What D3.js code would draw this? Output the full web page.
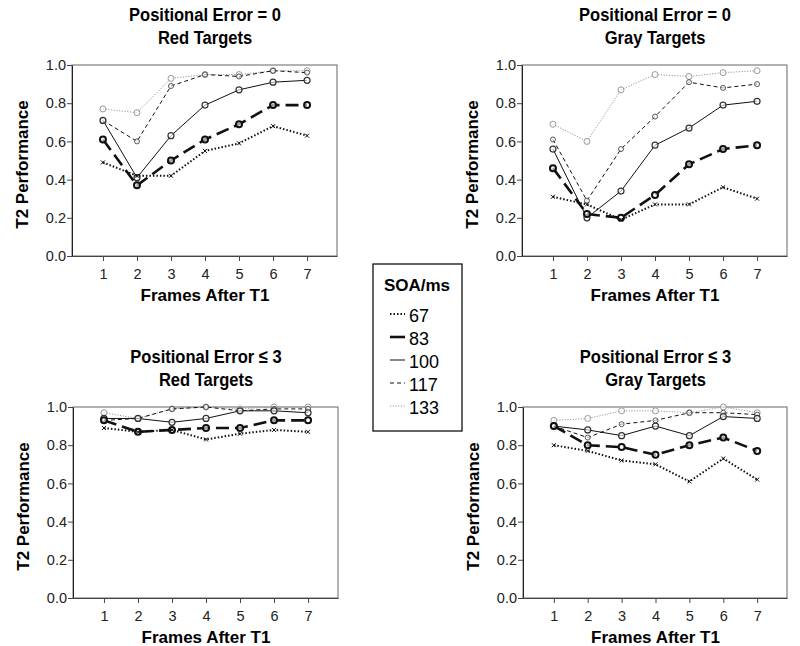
<!DOCTYPE html>
<html>
<head>
<meta charset="utf-8">
<script src="https://cdn.jsdelivr.net/npm/d3@7"></script>
<style>
  body { margin: 0; background: #fff; }
  svg { display: block; font-family: "Liberation Sans", Arial, sans-serif; }
  .title { font-weight: bold; font-size: 19px; }
  .lab { font-weight: bold; font-size: 17px; }
  .tick text { font-size: 14.5px; fill: #222; }
</style>
</head>
<body>
<div id="root"></div>
<script>
const frames = [1, 2, 3, 4, 5, 6, 7];
const soaLevels = ["67", "83", "100", "117", "133"];

// Positional Error = 0, Red Targets
const pe0Red = {
  "67":  [0.49, 0.42, 0.42, 0.55, 0.59, 0.68, 0.63],
  "83":  [0.61, 0.37, 0.50, 0.61, 0.69, 0.79, 0.79],
  "100": [0.71, 0.41, 0.63, 0.79, 0.87, 0.91, 0.92],
  "117": [0.71, 0.60, 0.89, 0.95, 0.94, 0.97, 0.96],
  "133": [0.77, 0.75, 0.93, 0.95, 0.95, 0.97, 0.97]
};
// Positional Error = 0, Gray Targets
const pe0Gray = {
  "67":  [0.31, 0.27, 0.19, 0.27, 0.27, 0.36, 0.30],
  "83":  [0.46, 0.22, 0.20, 0.32, 0.48, 0.56, 0.58],
  "100": [0.56, 0.20, 0.34, 0.58, 0.67, 0.79, 0.81],
  "117": [0.61, 0.29, 0.56, 0.73, 0.91, 0.88, 0.90],
  "133": [0.69, 0.60, 0.87, 0.95, 0.94, 0.96, 0.97]
};
// Positional Error <= 3, Red Targets
const pe3Red = {
  "67":  [0.89, 0.87, 0.88, 0.83, 0.86, 0.88, 0.87],
  "83":  [0.93, 0.87, 0.88, 0.89, 0.89, 0.93, 0.93],
  "100": [0.94, 0.94, 0.92, 0.94, 0.98, 0.98, 0.97],
  "117": [0.93, 0.94, 0.99, 1.00, 0.98, 0.99, 0.99],
  "133": [0.97, 0.94, 0.99, 1.00, 0.99, 1.00, 1.00]
};
// Positional Error <= 3, Gray Targets
const pe3Gray = {
  "67":  [0.80, 0.77, 0.72, 0.70, 0.61, 0.73, 0.62],
  "83":  [0.90, 0.80, 0.79, 0.75, 0.80, 0.84, 0.77],
  "100": [0.90, 0.88, 0.85, 0.90, 0.85, 0.95, 0.94],
  "117": [0.90, 0.84, 0.91, 0.93, 0.97, 0.97, 0.96],
  "133": [0.93, 0.94, 0.98, 0.98, 0.97, 1.00, 0.97]
};
const yTicks = [0, 0.2, 0.4, 0.6, 0.8, 1.0];

const styles = {
  "67":  { stroke: "#111", width: 2, dash: "1.5,2", marker: "x", mcol: "#111" },
  "83":  { stroke: "#111", width: 2.6, dash: "13,6", marker: "o", mcol: "#111", mw: 2 },
  "100": { stroke: "#111", width: 1, dash: null, marker: "o", mcol: "#333", mw: 1.2 },
  "117": { stroke: "#111", width: 1, dash: "4,3", marker: "o", mcol: "#444", mw: 0.9, r: 2.5 },
  "133": { stroke: "#999", width: 1, dash: "1.2,1.5", marker: "o", mcol: "#999", mw: 1 }
};

const panels = [
  { data: pe0Red,  t1: "Positional Error = 0", t2: "Red Targets",  x0: 72,  x1: 337, y0: 65,  y1: 256 },
  { data: pe0Gray, t1: "Positional Error = 0", t2: "Gray Targets", x0: 522, x1: 787, y0: 65,  y1: 256 },
  { data: pe3Red,  t1: "Positional Error \u2264 3", t2: "Red Targets",  x0: 73,  x1: 338, y0: 407, y1: 598 },
  { data: pe3Gray, t1: "Positional Error \u2264 3", t2: "Gray Targets", x0: 523, x1: 787, y0: 407, y1: 598 }
];

const svg = d3.select("#root").append("svg").attr("width", 800).attr("height", 646);

panels.forEach(p => {
  const x = d3.scaleLinear().domain([0.09, 7.88]).range([p.x0, p.x1]);
  const y = d3.scaleLinear().domain([0, 1]).range([p.y1, p.y0]);
  const g = svg.append("g");

  // frame
  g.append("rect").attr("x", p.x0).attr("y", p.y0)
    .attr("width", p.x1 - p.x0).attr("height", p.y1 - p.y0)
    .attr("fill", "none").attr("stroke", "#666").attr("stroke-width", 1);

  const xa = g.append("g").attr("transform", `translate(0,${p.y1})`)
    .call(d3.axisBottom(x).tickValues(frames).tickFormat(d3.format("d")).tickSize(5).tickSizeOuter(0));
  xa.selectAll(".tick text").attr("dy", "1.05em");
  xa.select(".domain").attr("stroke", "#444");
  xa.selectAll(".tick line").attr("stroke", "#444");

  const ya = g.append("g").attr("transform", `translate(${p.x0},0)`)
    .call(d3.axisLeft(y).tickValues(yTicks).tickFormat(d3.format(".1f")).tickSize(5).tickSizeOuter(0));
  ya.selectAll(".tick text").attr("x", -6);
  ya.select(".domain").attr("stroke", "#222");
  ya.selectAll(".tick line").attr("stroke", "#444");

  // titles (condensed bold)
  const cx = (x(1) + x(7)) / 2;
  g.append("text").attr("class", "title")
    .attr("transform", `translate(${cx},${p.y0 - 44}) scale(0.87,1)`)
    .attr("text-anchor", "middle").text(p.t1);
  g.append("text").attr("class", "title")
    .attr("transform", `translate(${cx},${p.y0 - 21}) scale(0.87,1)`)
    .attr("text-anchor", "middle").text(p.t2);

  // axis labels
  g.append("text").attr("class", "lab").attr("x", cx).attr("y", p.y1 + 45)
    .attr("text-anchor", "middle").text("Frames After T1");
  g.append("text").attr("class", "lab")
    .attr("transform", `translate(${p.x0 - 44},${(p.y0 + p.y1) / 2 + 4}) rotate(-90)`)
    .attr("text-anchor", "middle").text("T2 Performance");

  const line = d3.line().x((d, i) => x(frames[i])).y(d => y(d));

  soaLevels.slice().reverse().forEach(k => {
    const s = styles[k];
    const vals = p.data[k];
    g.append("path").datum(vals)
      .attr("fill", "none").attr("stroke", s.stroke).attr("stroke-width", s.width)
      .attr("stroke-dasharray", s.dash).attr("d", line);
    if (s.marker === "o") {
      g.selectAll(null).data(vals).enter().append("circle")
        .attr("cx", (d, i) => x(frames[i])).attr("cy", d => y(d))
        .attr("r", s.r || 3).attr("fill", "#fff").attr("fill-opacity", 0.6)
        .attr("stroke", s.mcol).attr("stroke-width", s.mw);
    } else {
      g.selectAll(null).data(vals).enter().append("path")
        .attr("transform", (d, i) => `translate(${x(frames[i])},${y(d)})`)
        .attr("d", "M-2,-2L2,2M-2,2L2,-2")
        .attr("stroke", s.mcol).attr("stroke-width", 1);
    }
  });
});

// legend
const lg = svg.append("g");
lg.append("rect").attr("x", 373).attr("y", 264).attr("width", 89).attr("height", 167)
  .attr("fill", "#fff").attr("stroke", "#111").attr("stroke-width", 1.3);
lg.append("text").attr("x", 417).attr("y", 291).attr("text-anchor", "middle")
  .attr("font-weight", "bold").attr("font-size", "17px").text("SOA/ms");
const legendY = d3.scalePoint().domain(soaLevels).range([316, 408]);
soaLevels.forEach(k => {
  const s = styles[k];
  const yy = legendY(k);
  lg.append("line").attr("x1", 390).attr("x2", 405).attr("y1", yy - 2).attr("y2", yy - 2)
    .attr("stroke", s.stroke).attr("stroke-width", s.width)
    .attr("stroke-dasharray", k === "83" ? null : s.dash);
  lg.append("text").attr("x", 409).attr("y", yy + 6).attr("font-size", "18px").text(k);
});
</script>
</body>
</html>
